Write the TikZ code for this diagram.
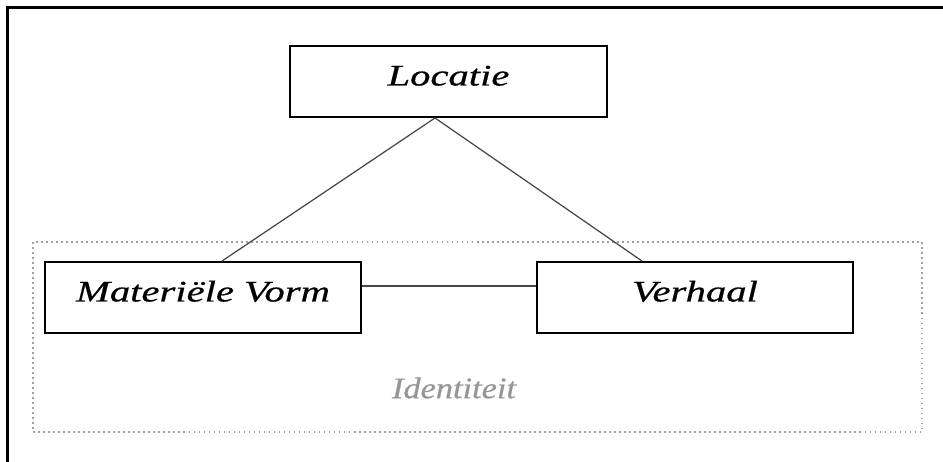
\documentclass[tikz,border=0pt]{standalone}
\usepackage{fontspec}
\setmainfont{Liberation Serif}
\newfontfamily\boxfont[FakeStretch=1.36, FakeBold=0.6]{Liberation Serif}
\newfontfamily\identfont[FakeStretch=1.15, FakeBold=0.6]{Liberation Serif}
\usetikzlibrary{positioning}
\definecolor{framegray}{RGB}{160, 160, 160}
\definecolor{idgray}{RGB}{150, 150, 150}
\definecolor{linegray}{RGB}{70, 70, 70}

\tikzset{
  conceptbox/.style={draw, line width=1.1pt, fill=white, inner sep=0pt,
    minimum width=6.33cm, text height=0.79cm, text depth=0.63cm,
    font=\boxfont\itshape\fontsize{17}{20}\selectfont},
  link/.style={draw=linegray, line width=0.7pt}
}

\begin{document}
\begin{tikzpicture}[x=0.02cm, y=-0.02cm]
  \useasboundingbox (0,0) rectangle (943,462);

  % Outer frame
  \draw[line width=1.2pt] (7.5,462) -- (7.5,7.5) -- (942.5,7.5);

  % Identity group
  \draw[framegray, line width=1.1pt, dash pattern=on 1pt off 1.85pt] (33,242) rectangle (922,432);
  \node[font=\identfont\itshape\fontsize{17}{20}\selectfont, text=idgray] (ident) at (454,388) {Identiteit};

  % Concepts
  \node[conceptbox] (loc) at (448.5,81.5) {Locatie};
  \node[conceptbox] (mat) at (203,297.5) {Materiële Vorm};
  \node[conceptbox] (verh) at (695,297.5) {Verhaal};

  % Links
  \draw[link] ([xshift=-0.27cm]loc.south) -- ([xshift=0.38cm]mat.north);
  \draw[link] ([xshift=-0.27cm]loc.south) -- ([xshift=-1.06cm]verh.north);
  \draw[link] ([yshift=0.23cm]mat.east) -- ([yshift=0.23cm]verh.west);
\end{tikzpicture}
\end{document}
